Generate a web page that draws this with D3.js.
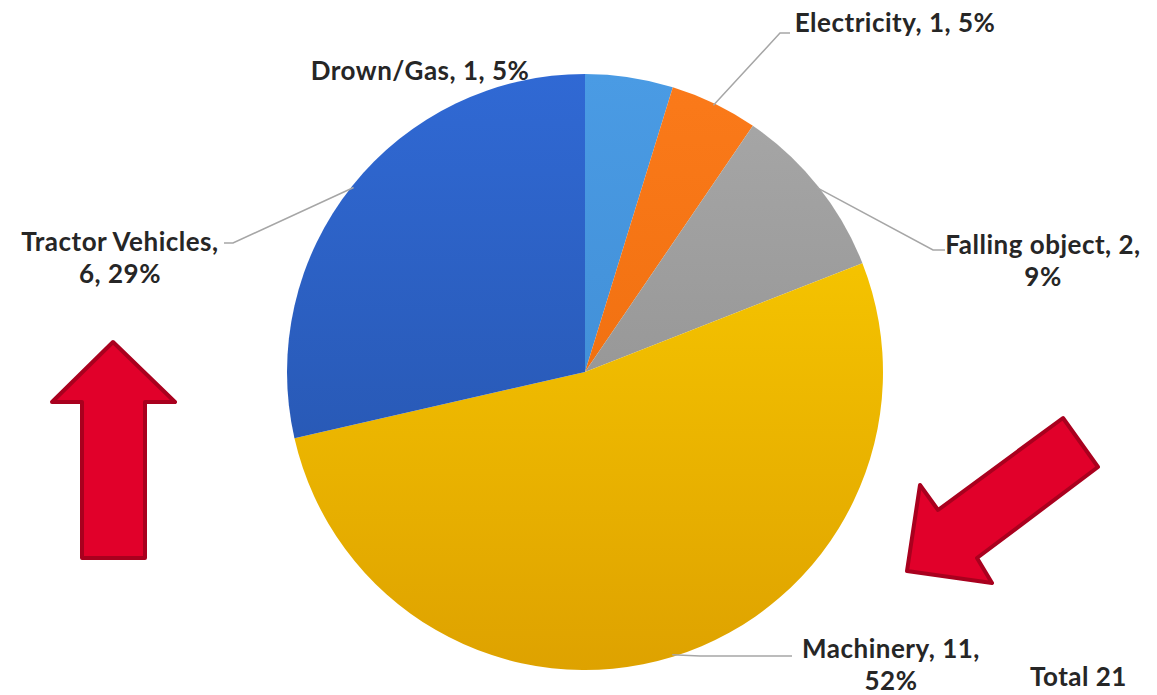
<!DOCTYPE html>
<html>
<head>
<meta charset="utf-8">
<script src="https://cdn.jsdelivr.net/npm/d3@7"></script>
<style>
  body { margin: 0; background: #fff; }
  svg { display: block; }
  .lbl { font-family: Lato, "Open Sans", sans-serif; font-weight: 700; font-size: 26px; letter-spacing: 0.5px; fill: #262626; }
</style>
</head>
<body>
<svg id="chart" width="1157" height="695"></svg>
<script>
// data
const categories = ["Drown/Gas", "Electricity", "Falling object", "Machinery", "Tractor Vehicles"];
const counts = [1, 1, 2, 11, 6];
const percents = [5, 5, 9, 52, 29];
const totalLabel = "Total 21";

// colours, top -> bottom of the pie
const topColors = ["#4a9be4", "#fb7a1a", "#a8a8a8", "#ffd200", "#3069d4"];
const bottomColors = ["#3b86cc", "#e86808", "#888888", "#dea200", "#2450a4"];

const width = 1157, height = 695;
const cx = 585, cy = 372, radius = 298;

// label layout: lines of text, anchor point, leader elbow
const labelLayout = [
    { lines: 1, x: 420, y: 80, elbow: null },
    { lines: 1, x: 895, y: 32, elbow: [[780, 33], [790, 33]] },
    { lines: 2, x: 1043, y: 254, elbow: [[933, 250], [945, 250]] },
    { lines: 2, x: 891, y: 658, elbow: [[700, 656], [792, 656]] },
    { lines: 2, x: 120, y: 251, elbow: [[233, 243], [224, 243]] }
];

const svg = d3.select("#chart");
const defs = svg.append("defs");

categories.forEach((c, i) => {
    const g = defs.append("linearGradient")
        .attr("id", "grad" + i)
        .attr("gradientUnits", "userSpaceOnUse")
        .attr("x1", 0).attr("x2", 0)
        .attr("y1", -radius).attr("y2", radius);
    g.append("stop").attr("offset", "0%").attr("stop-color", topColors[i]);
    g.append("stop").attr("offset", "100%").attr("stop-color", bottomColors[i]);
});

const pie = d3.pie().sort(null).value(d => d);
const arcs = pie(counts);
const arc = d3.arc().innerRadius(0).outerRadius(radius);
const edgeArc = d3.arc().innerRadius(radius - 2).outerRadius(radius - 2);

const gPie = svg.append("g").attr("transform", `translate(${cx},${cy})`);
gPie.selectAll("path")
    .data(arcs)
    .join("path")
    .attr("d", arc)
    .attr("fill", (d, i) => `url(#grad${i})`);

// leader lines
const lines = svg.append("g")
    .attr("fill", "none")
    .attr("stroke", "#a6a6a6")
    .attr("stroke-width", 1.5);

arcs.forEach((d, i) => {
    const lay = labelLayout[i];
    if (!lay.elbow) return;
    const c = edgeArc.centroid(d);
    const pts = [[cx + c[0], cy + c[1]]].concat(lay.elbow);
    lines.append("path").attr("d", d3.line()(pts));
});

// labels
const lblG = svg.append("g");
arcs.forEach((d, i) => {
    const lay = labelLayout[i];
    const full = `${categories[i]}, ${counts[i]}, ${percents[i]}%`;
    let rows;
    if (lay.lines === 1) {
        rows = [full];
    } else if (i === 4) {
        rows = [`${categories[i]},`, `${counts[i]}, ${percents[i]}%`];
    } else {
        rows = [`${categories[i]}, ${counts[i]},`, `${percents[i]}%`];
    }
    const t = lblG.append("text")
        .attr("class", "lbl")
        .attr("text-anchor", "middle")
        .attr("x", lay.x)
        .attr("y", lay.y);
    rows.forEach((r, k) => {
        t.append("tspan")
            .attr("x", lay.x)
            .attr("dy", k === 0 ? 0 : 32)
            .text(r);
    });
});

lblG.append("text")
    .attr("class", "lbl")
    .attr("x", 1030)
    .attr("y", 686)
    .text(totalLabel);

// red arrow callouts
const arrowUp = [[113, 342], [175, 402], [145, 402], [145, 558], [82, 558], [82, 402], [52, 402]];
const arrowDiag = [[907, 571], [920, 485], [938, 510], [1063, 418], [1098, 467], [977, 558], [992, 583]];

svg.append("g")
    .selectAll("path")
    .data([arrowUp, arrowDiag])
    .join("path")
    .attr("d", d => d3.line()(d) + "Z")
    .attr("fill", "#e1002a")
    .attr("stroke", "#a9001e")
    .attr("stroke-width", 4)
    .attr("stroke-linejoin", "round");
</script>
</body>
</html>
